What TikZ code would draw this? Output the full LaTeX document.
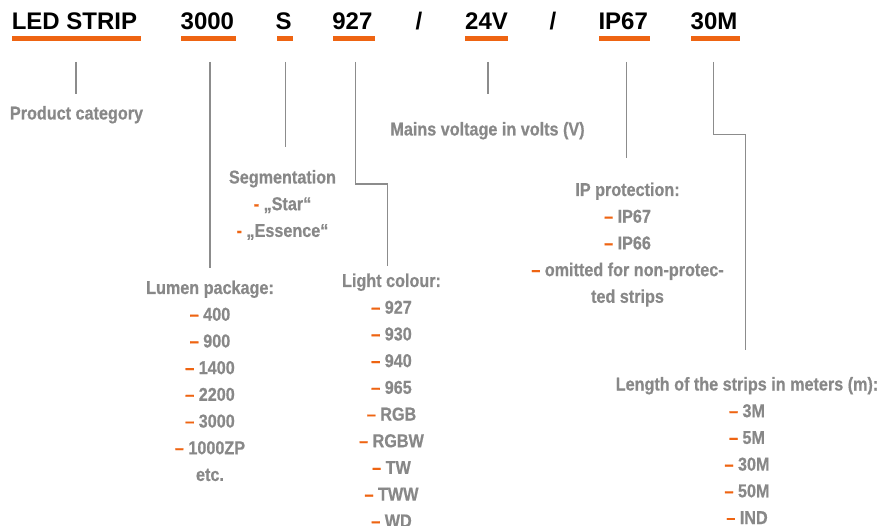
\documentclass[tikz,border=0pt]{standalone}
\usepackage{fontspec}
\setmainfont{Liberation Sans}
\newfontfamily\hdfont{Liberation Sans}
\newfontfamily\cdfont[FakeStretch=0.87,FakeBold=0.6]{Liberation Sans Bold}
\definecolor{barorange}{RGB}{238,100,18}
\definecolor{txtgray}{RGB}{136,136,136}
\definecolor{linegray}{RGB}{140,140,140}
\newcommand\orgdash{{\color{barorange}–}\ }
\newcommand\orghyph{{\color{barorange}-}\ }
\tikzset{
  hd/.style={inner sep=0pt, anchor=base west, text=black,
    font={\hdfont\bfseries\fontsize{24}{28}\selectfont}},
  lbl/.style={inner sep=0pt, anchor=base, text=txtgray,
    font={\cdfont\fontsize{18.6}{26.7}\selectfont}},
  bar/.style={fill=barorange},
  conn/.style={draw=linegray, line width=1.1pt},
}
\begin{document}
\begin{tikzpicture}[x=1pt,y=-1pt]
\useasboundingbox (0,0) rectangle (882,526);
\clip (0,0) rectangle (882,526);
% header
\node[hd] (led) at (11.6,30) {LED STRIP};
\node[hd] (n3000) at (180.5,30) {3000};
\node[hd] (s) at (275.5,30) {S};
\node[hd] (n927) at (332.2,30) {927};
\node[hd] (sl1) at (415.5,30) {/};
\node[hd] (v24) at (465,30) {24V};
\node[hd] (sl2) at (549.5,30) {/};
\node[hd] (ip) at (598.3,30) {IP67};
\node[hd] (m30) at (690.5,30) {30M};
% bars
\fill[bar] (12.3,36) rectangle (140.7,40.7);
\fill[bar] (181,36) rectangle (236,40.7);
\fill[bar] (276.7,36) rectangle (292.7,40.7);
\fill[bar] (333.3,36) rectangle (375,40.7);
\fill[bar] (465,36) rectangle (508.3,40.7);
\fill[bar] (599,36) rectangle (650,40.7);
\fill[bar] (691,36) rectangle (740,40.7);
% labels
\node[lbl] (pc) at (76.5,119.5) {Product category};
\node[lbl] (mv) at (487.5,135.5) {Mains voltage in volts (V)};
\node[lbl] (seg) at (282.5,183.5) {Segmentation};
\node[lbl] (seg1) at (282.5,210.2) {\orghyph„Star“};
\node[lbl] (seg2) at (282.5,236.9) {\orghyph„Essence“};
\node[lbl] (lum) at (210,294) {Lumen package:};
\foreach \t [count=\i] in {400,900,1400,2200,3000,1000ZP}
  \node[lbl] (lum\i) at (210,{294+26.7*\i}) {\orgdash\t};
\node[lbl] (lum7) at (210,480.9) {etc.};
\node[lbl] (lc) at (391.5,287) {Light colour:};
\foreach \t [count=\i] in {927,930,940,965,RGB,RGBW,TW,TWW,WD}
  \node[lbl] (lc\i) at (391.5,{287+26.7*\i}) {\orgdash\t};
\node[lbl] (ipp) at (627.5,196) {IP protection:};
\node[lbl] (ipp1) at (627.5,222.7) {\orgdash IP67};
\node[lbl] (ipp2) at (627.5,249.4) {\orgdash IP66};
\node[lbl] (ipp3) at (627.5,276.1) {\orgdash omitted for non-protec-};
\node[lbl] (ipp4) at (627.5,302.8) {ted strips};
\node[lbl] (len) at (747,390.5) {Length of the strips in meters (m):};
\foreach \t [count=\i] in {3M,5M,30M,50M,IND}
  \node[lbl] (len\i) at (747,{390.5+26.7*\i}) {\orgdash\t};
% connector points
\coordinate (a1) at (76,62);    \coordinate (b1) at (76,94);
\coordinate (a2) at (210,62);   \coordinate (b2) at (210,268);
\coordinate (a3) at (285.7,62); \coordinate (b3) at (285.7,147);
\coordinate (a4) at (355.3,62); \coordinate (k4) at (387.3,184); \coordinate (b4) at (387.3,266);
\coordinate (a5) at (488,62);   \coordinate (b5) at (488,94);
\coordinate (a6) at (626.3,62); \coordinate (b6) at (626.3,157.7);
\coordinate (a7) at (713.7,62); \coordinate (k7) at (745.7,134.3); \coordinate (b7) at (745.7,350);
\draw[conn] (a1) -- (b1);
\draw[conn] (a2) -- (b2);
\draw[conn] (a3) -- (b3);
\draw[conn] (a4) |- (k4) -- (b4);
\draw[conn] (a5) -- (b5);
\draw[conn] (a6) -- (b6);
\draw[conn] (a7) |- (k7) -- (b7);
\end{tikzpicture}
\end{document}
